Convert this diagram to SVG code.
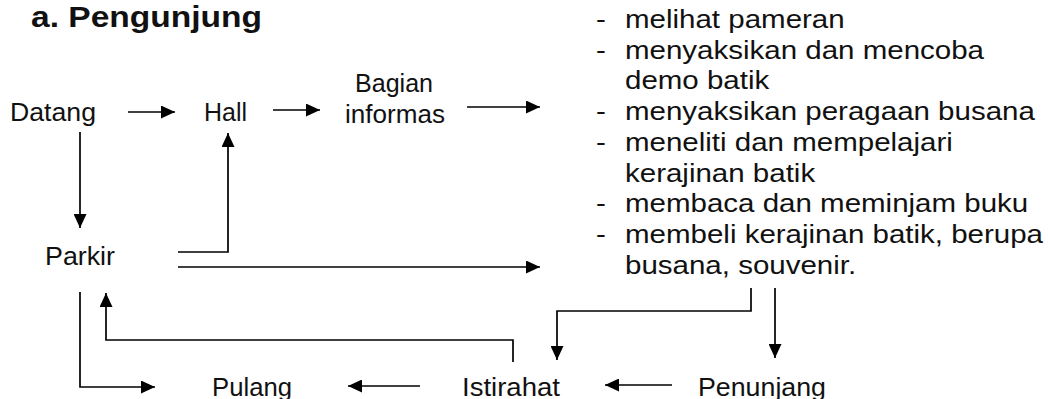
<svg xmlns="http://www.w3.org/2000/svg" width="1048" height="399" viewBox="0 0 1048 399">
<defs>
<marker id="ah" markerUnits="userSpaceOnUse" markerWidth="15" markerHeight="13" refX="14" refY="6.5" orient="auto">
<path d="M0,0 L14,6.5 L0,13 z" fill="#000"/>
</marker>
<style>
.t{font-family:"Liberation Sans",Arial,sans-serif;font-size:25px;fill:#111}
.l{font-family:"Liberation Sans",Arial,sans-serif;font-size:25.5px;fill:#111}
.h{font-family:"Liberation Sans",Arial,sans-serif;font-size:29px;font-weight:bold;fill:#111}
.c{fill:none;stroke:#000;stroke-width:1.7}
.a{marker-end:url(#ah)}
</style>
</defs>
<rect width="1048" height="399" fill="#fff"/>
<g id="title"><text class="h" x="31" y="27" textLength="231" lengthAdjust="spacingAndGlyphs">a.  Pengunjung</text></g>
<g id="datang"><text class="t" x="10" y="121" textLength="86" lengthAdjust="spacingAndGlyphs">Datang</text></g>
<g id="hall"><text class="t" x="204" y="121" textLength="43" lengthAdjust="spacingAndGlyphs">Hall</text></g>
<g id="bagian"><text class="t" x="355" y="92" textLength="78" lengthAdjust="spacingAndGlyphs">Bagian</text><text class="t" x="345" y="123" textLength="100" lengthAdjust="spacingAndGlyphs">informas</text></g>
<g id="kegiatan" transform="matrix(1.157,0,0,1,625,0)">
<text class="l" x="-25" y="28">-</text><text class="l" x="0" y="28">melihat pameran</text>
<text class="l" x="-25" y="59">-</text><text class="l" x="0" y="59">menyaksikan dan mencoba</text>
<text class="l" x="0" y="89">demo batik</text>
<text class="l" x="-25" y="120">-</text><text class="l" x="0" y="120">menyaksikan peragaan busana</text>
<text class="l" x="-25" y="151">-</text><text class="l" x="0" y="151">meneliti dan mempelajari</text>
<text class="l" x="0" y="182">kerajinan batik</text>
<text class="l" x="-25" y="212">-</text><text class="l" x="0" y="212">membaca dan meminjam buku</text>
<text class="l" x="-25" y="243">-</text><text class="l" x="0" y="243">membeli kerajinan batik, berupa</text>
<text class="l" x="0" y="274">busana, souvenir.</text>
</g>
<g id="parkir"><text class="t" x="45" y="265" textLength="70" lengthAdjust="spacingAndGlyphs">Parkir</text></g>
<g id="pulang"><text class="t" x="212" y="396" textLength="80" lengthAdjust="spacingAndGlyphs">Pulang</text></g>
<g id="istirahat"><text class="t" x="462" y="396" textLength="98" lengthAdjust="spacingAndGlyphs">Istirahat</text></g>
<g id="penunjang"><text class="t" x="698" y="396" textLength="128" lengthAdjust="spacingAndGlyphs">Penunjang</text></g>
<g id="connectors">
<line class="c a" x1="128" y1="112" x2="175" y2="112"/>
<line class="c a" x1="273" y1="110" x2="320" y2="110"/>
<line class="c a" x1="467" y1="107" x2="540" y2="107"/>
<line class="c a" x1="80" y1="132" x2="80" y2="228"/>
<polyline class="c a" points="178,252 228,252 228,133"/>
<line class="c a" x1="178" y1="267" x2="540" y2="267"/>
<polyline class="c a" points="80,292 80,387 155,387"/>
<polyline class="c a" points="513,362 513,340 106,340 106,293"/>
<line class="c a" x1="420" y1="386" x2="348" y2="386"/>
<polyline class="c a" points="751,288 751,311 557,311 557,360"/>
<line class="c a" x1="775" y1="288" x2="775" y2="358"/>
<line class="c a" x1="672" y1="385" x2="605" y2="385"/>
</g>
</svg>
